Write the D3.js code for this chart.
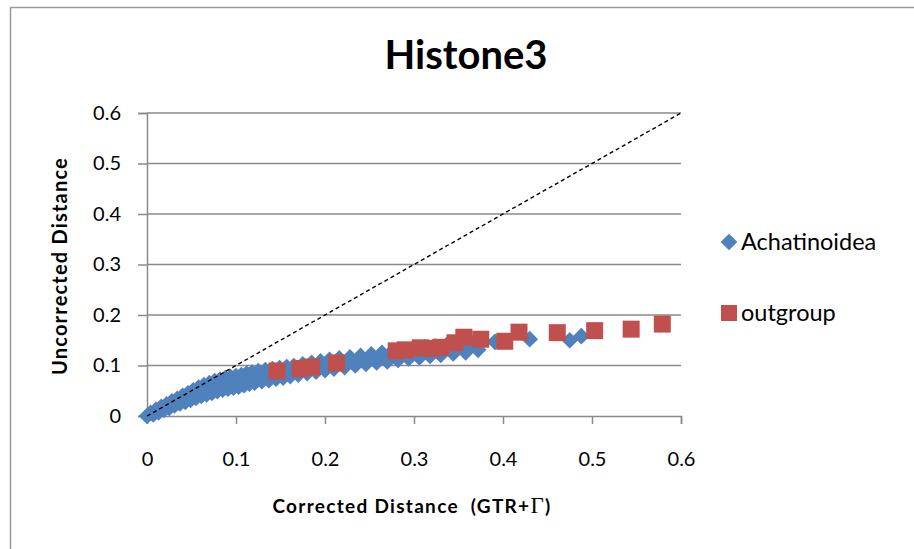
<!DOCTYPE html>
<html>
<head>
<meta charset="utf-8">
<script src="https://cdn.jsdelivr.net/npm/d3@7"></script>
<style>
  body { margin: 0; background: #fff; }
  svg { display: block; font-family: Lato, "Open Sans", sans-serif; }
</style>
</head>
<body>
<div id="chart"></div>
<script>
// corrected distance (x) and uncorrected distance (y)
var achX = [0, 0.004, 0.007, 0.010, 0.013, 0.016, 0.019, 0.022, 0.025, 0.028, 0.031, 0.034, 0.037, 0.040, 0.043,
  0.046, 0.049, 0.052, 0.055, 0.058, 0.061, 0.064, 0.067, 0.070, 0.073, 0.076, 0.079, 0.082, 0.085, 0.088,
  0.091, 0.094, 0.097, 0.100, 0.103, 0.106, 0.109, 0.112, 0.115, 0.118, 0.121, 0.125, 0.129, 0.133, 0.137,
  0.141, 0.145, 0.149, 0.153, 0.157, 0.161, 0.165, 0.170, 0.175, 0.180, 0.185, 0.190, 0.195, 0.200, 0.205,
  0.210, 0.216, 0.222, 0.228, 0.234, 0.240, 0.246, 0.252, 0.258, 0.264, 0.270, 0.276, 0.282, 0.288, 0.294,
  0.300, 0.306, 0.312, 0.318, 0.324, 0.330, 0.337, 0.344, 0.351, 0.358, 0.365, 0.372, 0.391, 0.430, 0.475, 0.488];
var achY = [0, 0.006, 0.003, 0.012, 0.007, 0.018, 0.012, 0.023, 0.016, 0.029, 0.021, 0.034, 0.025, 0.040, 0.028,
  0.045, 0.032, 0.051, 0.036, 0.056, 0.040, 0.061, 0.043, 0.065, 0.046, 0.069, 0.049, 0.072, 0.052, 0.075,
  0.054, 0.077, 0.056, 0.079, 0.058, 0.081, 0.061, 0.084, 0.064, 0.086, 0.066, 0.089, 0.069, 0.091, 0.071,
  0.093, 0.074, 0.095, 0.076, 0.097, 0.079, 0.099, 0.082, 0.102, 0.085, 0.105, 0.088, 0.108, 0.091, 0.111,
  0.094, 0.114, 0.097, 0.116, 0.100, 0.119, 0.103, 0.122, 0.106, 0.125, 0.108, 0.128, 0.111, 0.131, 0.114,
  0.133, 0.116, 0.136, 0.119, 0.138, 0.121, 0.141, 0.124, 0.142, 0.126, 0.144, 0.131, 0.147, 0.152, 0.150, 0.158];
var outX = [0.146, 0.172, 0.185, 0.213, 0.280, 0.290, 0.307, 0.320, 0.330, 0.346, 0.356, 0.375, 0.402, 0.418, 0.461, 0.503, 0.544, 0.579];
var outY = [0.089, 0.094, 0.097, 0.105, 0.129, 0.131, 0.135, 0.134, 0.136, 0.145, 0.156, 0.152, 0.148, 0.166, 0.165, 0.169, 0.172, 0.182];
var ticks = [0, 0.1, 0.2, 0.3, 0.4, 0.5, 0.6];
var seriesNames = ["Achatinoidea", "outgroup"];
var colors = ["#4F81BD", "#C0504D"];

var width = 914, height = 549;
var svg = d3.select("#chart").append("svg").attr("width", width).attr("height", height);

// outer chart frame
svg.append("rect").attr("x", 10.5).attr("y", 7.5).attr("width", 920).attr("height", 560)
  .attr("fill", "none").attr("stroke", "#9a9a9a").attr("stroke-width", 1.5);

var x = d3.scaleLinear().domain([0, 0.6]).range([147, 681]);
var y = d3.scaleLinear().domain([0, 0.6]).range([416, 113]);

// horizontal gridlines
svg.append("g").selectAll("line").data(ticks.slice(1)).enter().append("line")
  .attr("x1", x(0)).attr("x2", x(0.6))
  .attr("y1", function(d) { return y(d); }).attr("y2", function(d) { return y(d); })
  .attr("stroke", "#8a8a8a").attr("stroke-width", 1.5);

var yAxis = svg.append("g").attr("transform", "translate(" + x(0) + ",0)")
  .call(d3.axisLeft(y).tickValues(ticks).tickSize(9).tickPadding(17).tickFormat(d3.format("")));
var xAxis = svg.append("g").attr("transform", "translate(0," + y(0) + ")")
  .call(d3.axisBottom(x).tickValues(ticks).tickSize(8).tickPadding(28).tickFormat(d3.format("")));

[yAxis, xAxis].forEach(function(a) {
  a.select(".domain").attr("stroke", "#8a8a8a").attr("stroke-width", 1.5);
  a.selectAll(".tick line").attr("stroke", "#8a8a8a").attr("stroke-width", 1.5);
  a.selectAll("text").attr("font-family", "Lato, sans-serif").attr("font-size", 20).attr("fill", "#000");
});

var diamond = d3.symbol().type(d3.symbolSquare).size(140);
var achData = achX.map(function(v, i) { return [v, achY[i]]; });
var outData = outX.map(function(v, i) { return [v, outY[i]]; });

svg.append("g").selectAll("path").data(achData).enter().append("path")
  .attr("d", diamond)
  .attr("transform", function(d) { return "translate(" + x(d[0]) + "," + y(d[1]) + ") rotate(45)"; })
  .attr("fill", colors[0]);

svg.append("g").selectAll("rect").data(outData).enter().append("rect")
  .attr("x", function(d) { return x(d[0]) - 8.5; }).attr("y", function(d) { return y(d[1]) - 8.5; })
  .attr("width", 17).attr("height", 17)
  .attr("fill", colors[1]);

// y = x reference line, drawn over the markers
svg.append("line").attr("x1", x(0)).attr("y1", y(0)).attr("x2", x(0.6)).attr("y2", y(0.6))
  .attr("stroke", "#000").attr("stroke-width", 1.4).attr("stroke-dasharray", "4,3");

// title
svg.append("text").attr("x", 466).attr("y", 69).attr("text-anchor", "middle")
  .attr("font-size", 40).attr("font-weight", "bold").text("Histone3");

// axis titles
var xt = svg.append("text").attr("x", 412).attr("y", 513).attr("text-anchor", "middle")
  .attr("font-size", 19).attr("font-weight", "bold").attr("letter-spacing", 1.3)
  .style("white-space", "pre");
xt.append("tspan").text("Corrected Distance  (GTR+");
xt.append("tspan").attr("font-family", "'Liberation Serif', serif").attr("font-weight", "normal").attr("font-size", 23).text("Γ");
xt.append("tspan").text(")");

svg.append("text").attr("transform", "translate(67,266) rotate(-90)").attr("text-anchor", "middle")
  .attr("font-size", 20).attr("font-weight", "bold").attr("letter-spacing", 1.2).text("Uncorrected Distance");

// legend
var leg = svg.append("g");
leg.append("path").attr("d", diamond).attr("transform", "translate(729,242) rotate(45)").attr("fill", colors[0]);
leg.append("rect").attr("x", 721).attr("y", 305).attr("width", 16).attr("height", 16).attr("fill", colors[1]);
leg.selectAll("text").data(seriesNames).enter().append("text")
  .attr("x", 741).attr("y", function(d, i) { return i == 0 ? 250 : 321; })
  .attr("font-size", 23.5).text(function(d) { return d; });
</script>
</body>
</html>
